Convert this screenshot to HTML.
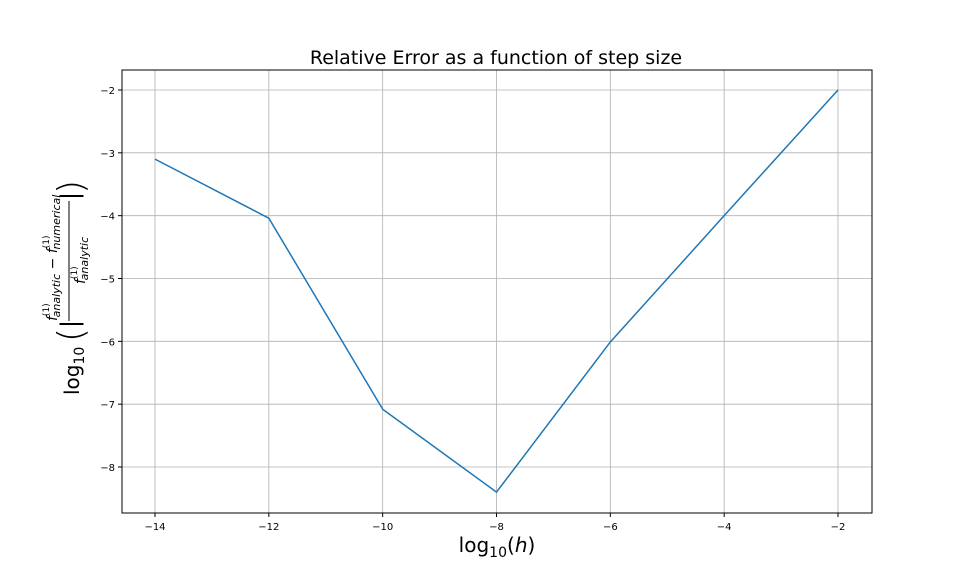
<!DOCTYPE html>
<html><head><meta charset="utf-8"><style>body{margin:0;background:#fff}svg{display:block;font-family:"DejaVu Sans","Liberation Sans",sans-serif}</style></head>
<body>
<svg id="c" width="969" height="586">
<rect width="969" height="586" fill="#fff"/>
<text x="496" y="64" font-size="19" text-anchor="middle">Relative Error as a function of step size</text>
<g id="grid"></g>
<g id="ticks" font-size="10"></g>
<path id="line" fill="none" stroke="#1f77b4" stroke-width="1.5"/>
<rect x="122" y="70" width="750" height="443" fill="none" stroke="#000" stroke-width="1"/>
<text x="497" y="552" font-size="20" text-anchor="middle">log<tspan font-size="14" dy="5">10</tspan><tspan dy="-5">(</tspan><tspan font-style="italic">h</tspan>)</text>
<g transform="translate(70,290) rotate(-90)">
<text x="-105" y="9" font-size="20">log<tspan font-size="14" dy="5">10</tspan></text>
<text x="-52" y="13" font-size="36" font-weight="100">(</text>
<text x="-38" y="8" font-size="24">|</text>
<text x="-31" y="-13" font-size="14" font-style="italic">f<tspan font-size="9" dy="-8" font-style="normal">(1)</tspan><tspan font-size="11" dy="11" dx="-14">analytic</tspan><tspan font-style="normal" dy="-3" font-size="14"> − </tspan><tspan>f</tspan><tspan font-size="9" dy="-8" font-style="normal">(1)</tspan><tspan font-size="11" dy="11" dx="-14">numerical</tspan></text>
<line x1="-31" y1="-1" x2="89" y2="-1" stroke="#000" stroke-width="1"/>
<text x="6" y="15" font-size="14" font-style="italic">f<tspan font-size="9" dy="-8" font-style="normal">(1)</tspan><tspan font-size="11" dy="11" dx="-14">analytic</tspan></text>
<text x="90" y="8" font-size="24">|</text>
<text x="96" y="13" font-size="36" font-weight="100">)</text>
</g>
</svg>
<script>
const xValues=[-14,-12,-10,-8,-6,-4,-2];
const errValues=[-3.10,-4.04,-7.08,-8.40,-6.01,-4.00,-2.00];
const xTicks=[-14,-12,-10,-8,-6,-4,-2];
const yTicks=[-2,-3,-4,-5,-6,-7,-8];
const sx=v=>155+(v+14)*(838-155)/12;
const sy=v=>90+(-2-v)*(467-90)/6;
const NS="http://www.w3.org/2000/svg";
const grid=document.getElementById('grid'),tk=document.getElementById('ticks');
function mk(tag,attrs,parent){const e=document.createElementNS(NS,tag);for(const k in attrs)e.setAttribute(k,attrs[k]);parent.appendChild(e);return e;}
xTicks.forEach(t=>{const x=sx(t);
const g=mk('line',{x1:x,x2:x,y1:70,y2:513,stroke:'#b0b0b0','stroke-width':0.8},grid);


mk('line',{x1:x,x2:x,y1:513,y2:517,stroke:'#000'},tk);
const l=mk('text',{x:x,y:530,'text-anchor':'middle'},tk);l.textContent=t<0?'−'+(-t):t;

});
yTicks.forEach(t=>{const y=sy(t);
const g=mk('line',{x1:122,x2:872,y1:y,y2:y,stroke:'#b0b0b0','stroke-width':0.8},grid);


mk('line',{x1:118,x2:122,y1:y,y2:y,stroke:'#000'},tk);
const l=mk('text',{x:115,y:y+4,'text-anchor':'end'},tk);l.textContent='−'+(-t);

});
document.getElementById('line').setAttribute('d',xValues.map((v,i)=>(i?'L':'M')+sx(v)+','+sy(errValues[i])).join(''));
</script>
</body></html>
